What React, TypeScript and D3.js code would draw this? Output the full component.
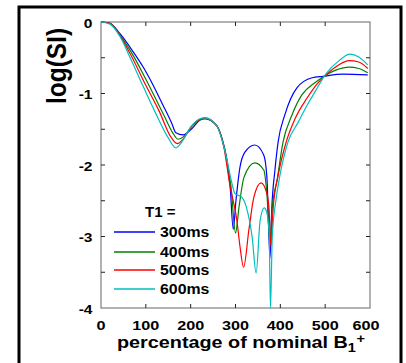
import React, { useEffect, useRef } from "react";
import * as d3 from "d3";

// percentage of nominal B1+ vs log(SI), one array per T1
const t1_300: [number, number][] = [
  [0, 0], [20, -0.02], [42, -0.16], [71, -0.41], [94, -0.63], [116, -0.88], [138, -1.16],
  [158, -1.42], [167, -1.55], [183, -1.58], [203, -1.49], [221, -1.37], [232, -1.35],
  [258, -1.45], [270, -1.63], [280, -1.9], [288, -2.3], [295, -2.9], [301, -2.5], [310, -2.03],
  [321, -1.82], [343, -1.72], [363, -1.86], [370, -2.17], [377, -3.3], [381, -2.6], [388, -2.07],
  [395, -1.68], [410, -1.3], [437, -0.92], [471, -0.78], [495, -0.76], [540, -0.73], [595, -0.74],
];
const t1_400: [number, number][] = [
  [0, 0], [20, -0.02], [42, -0.18], [71, -0.46], [100, -0.8], [140, -1.3], [160, -1.55],
  [172, -1.64], [185, -1.6], [205, -1.44], [232, -1.35], [258, -1.45], [270, -1.64], [280, -1.9],
  [290, -2.3], [300, -2.95], [308, -2.58], [319, -2.17], [343, -1.97], [363, -2.07], [370, -2.4],
  [377, -3.1], [382, -2.6], [393, -2.2], [406, -1.68], [426, -1.3], [448, -1.02], [477, -0.85],
  [495, -0.77], [525, -0.67], [553, -0.63], [575, -0.65], [595, -0.71],
];
const t1_500: [number, number][] = [
  [0, 0], [20, -0.02], [42, -0.19], [68, -0.48], [97, -0.85], [130, -1.25], [155, -1.6],
  [170, -1.7], [183, -1.64], [203, -1.45], [232, -1.34], [258, -1.45], [274, -1.75], [288, -2.3],
  [303, -2.77], [310, -3.14], [318, -3.43], [330, -2.9], [341, -2.45], [357, -2.25], [370, -2.4],
  [375, -2.63], [379, -3.14], [384, -2.6], [395, -2.15], [413, -1.68], [433, -1.35], [460, -1.06],
  [484, -0.85], [500, -0.75], [530, -0.6], [553, -0.54], [575, -0.56], [595, -0.65],
];
const t1_600: [number, number][] = [
  [0, 0], [20, -0.03], [42, -0.2], [65, -0.5], [94, -0.9], [120, -1.25], [150, -1.62],
  [167, -1.76], [180, -1.68], [200, -1.47], [222, -1.35], [232, -1.34], [258, -1.45], [270, -1.65],
  [280, -1.9], [290, -2.2], [299, -2.4], [314, -2.45], [326, -2.63], [337, -3.0], [346, -3.51],
  [355, -2.77], [364, -2.6], [370, -2.67], [375, -2.95], [378, -4.0], [382, -3.0], [390, -2.5],
  [399, -2.15], [417, -1.68], [440, -1.4], [460, -1.16], [477, -0.98], [500, -0.74], [533, -0.53],
  [555, -0.45], [575, -0.49], [595, -0.6],
];

const seriesNames = ["300ms", "400ms", "500ms", "600ms"];
const seriesData = [t1_300, t1_400, t1_500, t1_600];
const seriesColors = ["#0000ff", "#008000", "#ff0000", "#00bfbf"];
const xTicks = [0, 100, 200, 300, 400, 500, 600];
const yTicks = [0, -0.5, -1, -1.5, -2, -2.5, -3, -3.5, -4];
const yLabels = [0, -1, -2, -3, -4];

export default function App() {
  const ref = useRef<SVGSVGElement>(null);

  useEffect(() => {
    const svg = d3.select(ref.current);
    svg.selectAll("*").remove();

    const left = 101, right = 370, top = 22, bottom = 308;
    const x = d3.scaleLinear().domain([0, 600]).range([left, right]);
    const y = d3.scaleLinear().domain([-4, 0]).range([bottom, top]);
    const font = "Arial, 'Liberation Sans', sans-serif";

    // the original figure is a bit stretched sideways, so text gets a scaleX
    const label = (px: number, py: number, size: number, anchor: string, sx: number) =>
      svg.append("text")
        .attr("transform", `translate(${px},${py}) scale(${sx},1)`)
        .attr("text-anchor", anchor)
        .attr("font-family", font).attr("font-weight", "bold").attr("font-size", size);

    // outer frame
    svg.append("rect")
      .attr("x", 19).attr("y", 7).attr("width", 382).attr("height", 370)
      .attr("fill", "white").attr("stroke", "black").attr("stroke-width", 3);

    // plot box
    svg.append("rect")
      .attr("x", left).attr("y", top).attr("width", right - left).attr("height", bottom - top)
      .attr("fill", "white").attr("stroke", "#7f7f7f").attr("stroke-width", 1.2);

    // curves
    const line = d3.line<[number, number]>()
      .x((d) => x(d[0]))
      .y((d) => y(d[1]))
      .curve(d3.curveMonotoneX);
    seriesData.forEach((s, i) => {
      svg.append("path")
        .datum(s)
        .attr("fill", "none")
        .attr("stroke", seriesColors[i])
        .attr("stroke-width", 1.2)
        .attr("d", line);
    });

    // ticks (inside, on all four sides)
    const tl = 4;
    const tg = svg.append("g").attr("stroke", "#222").attr("stroke-width", 1);
    xTicks.slice(1, -1).forEach((t) => {
      tg.append("line").attr("x1", x(t)).attr("x2", x(t)).attr("y1", bottom).attr("y2", bottom - tl);
      tg.append("line").attr("x1", x(t)).attr("x2", x(t)).attr("y1", top).attr("y2", top + tl);
    });
    yTicks.slice(1, -1).forEach((t) => {
      tg.append("line").attr("x1", left).attr("x2", left + tl).attr("y1", y(t)).attr("y2", y(t));
      tg.append("line").attr("x1", right).attr("x2", right - tl).attr("y1", y(t)).attr("y2", y(t));
    });

    // tick labels
    xTicks.forEach((t) => {
      label(Math.min(x(t), 366), 329.5, 13.5, "middle", 1.2).text(t);
    });
    yLabels.forEach((t) => {
      label(92.5, y(t) + 5.5, 13.5, "end", 1.15).text(t);
    });

    // axis titles
    const xt = label(117, 348, 17, "start", 1.165);
    xt.append("tspan").text("percentage of nominal B");
    xt.append("tspan").attr("font-size", 12.5).attr("dy", 4).text("1");
    xt.append("tspan").attr("font-size", 12.5).attr("dx", 0.5).attr("dy", -9).text("+");

    svg.append("text")
      .attr("transform", "translate(66,66) scale(1.12,1) rotate(-90)")
      .attr("text-anchor", "middle")
      .attr("font-family", font).attr("font-weight", "bold").attr("font-size", 24.5)
      .text("log(SI)");

    // legend
    label(145, 217, 15, "start", 1).text("T1 =");
    const rows = [232, 252, 270, 289];
    seriesNames.forEach((n, i) => {
      svg.append("line")
        .attr("x1", 114).attr("x2", 155).attr("y1", rows[i]).attr("y2", rows[i])
        .attr("stroke", seriesColors[i]).attr("stroke-width", 1.4);
      label(160, rows[i] + 5, 15, "start", 1.06).text(n);
    });
  }, []);

  return (
    <svg
      ref={ref}
      width={406}
      height={363}
      style={{ position: "absolute", left: 0, top: 0, display: "block", background: "white" }}
    />
  );
}
